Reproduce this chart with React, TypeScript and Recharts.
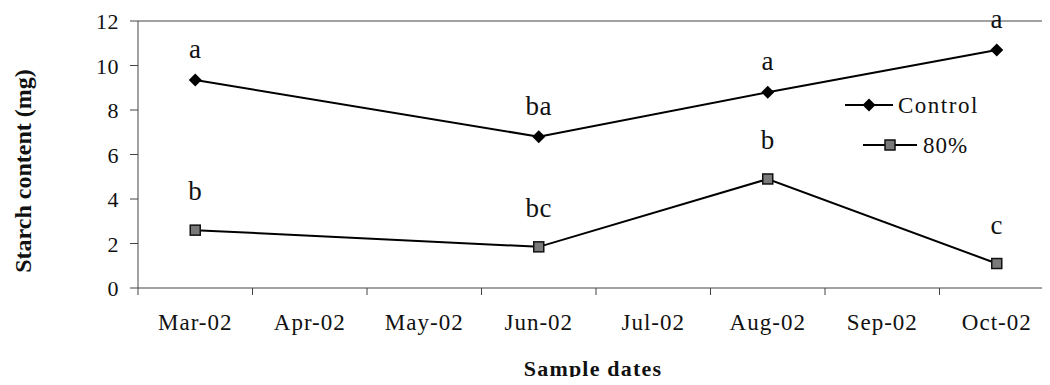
import React from 'react'
import {
  LineChart,
  Line,
  XAxis,
  YAxis,
  ReferenceLine,
  LabelList,
} from 'recharts'

const months = ['Mar-02', 'Apr-02', 'May-02', 'Jun-02', 'Jul-02', 'Aug-02', 'Sep-02', 'Oct-02']
const controlValues = [9.35, null, null, 6.8, null, 8.8, null, 10.7]
const lowValues = [2.6, null, null, 1.85, null, 4.9, null, 1.1]
const controlTags = ['a', null, null, 'ba', null, 'a', null, 'a']
const lowTags = ['b', null, null, 'bc', null, 'b', null, 'c']
const yTicks = [0, 2, 4, 6, 8, 10, 12]

const chartData = months.map((m, i) => ({
  month: m,
  control: controlValues[i],
  low: lowValues[i],
  controlTag: controlTags[i],
  lowTag: lowTags[i],
}))

const FONT = 'Liberation Serif, Times New Roman, DejaVu Serif, serif'
const AXIS = '#444'
const INK = '#111'

const CHART_W = 1070
const CHART_H = 385
const PLOT_LEFT = 138
const PLOT_RIGHT = 1054
const BAND = (PLOT_RIGHT - PLOT_LEFT) / months.length

const txt = (size: number, spacing = 0, bold = false) => ({
  fontFamily: FONT,
  fontSize: size,
  letterSpacing: spacing,
  fontWeight: bold ? 'bold' : 'normal',
  fill: INK,
})

function MonthTick(props: any) {
  const { x, y, payload, index } = props
  const left = x - BAND / 2
  return (
    <g>
      <line x1={left} y1={y} x2={left} y2={y + 7} stroke={AXIS} strokeWidth={1} />
      {index === months.length - 1 && (
        <line x1={x + BAND / 2} y1={y} x2={x + BAND / 2} y2={y + 7} stroke={AXIS} strokeWidth={1} />
      )}
      <text x={x} y={y + 42} textAnchor="middle" style={txt(23, 1)}>
        {payload.value}
      </text>
    </g>
  )
}

function ValueTick(props: any) {
  const { x, y, payload } = props
  return (
    <text x={x} y={y + 8} textAnchor="end" style={txt(22, 0.5)}>
      {payload.value}
    </text>
  )
}

function DiamondDot(props: any) {
  const { cx, cy, index } = props
  if (cx == null || cy == null || props.value == null) return <g key={`d-${index}`} />
  const r = 6.5
  return (
    <path
      key={`d-${index}`}
      d={`M${cx},${cy - r} L${cx + r},${cy} L${cx},${cy + r} L${cx - r},${cy} Z`}
      fill="#000"
    />
  )
}

function SquareDot(props: any) {
  const { cx, cy, index } = props
  if (cx == null || cy == null || props.value == null) return <g key={`s-${index}`} />
  const r = 5
  return (
    <rect
      key={`s-${index}`}
      x={cx - r}
      y={cy - r}
      width={r * 2}
      height={r * 2}
      fill="#7a7a7a"
      stroke="#111"
      strokeWidth={1.5}
    />
  )
}

const tagRenderer = (offset: number) => (props: any) => {
  const { x, y, value, index } = props
  if (value == null || x == null || y == null) return <g key={`t-${index}`} />
  return (
    <text key={`t-${index}`} x={x} y={y - offset} textAnchor="middle" style={txt(27, 0.5)}>
      {value}
    </text>
  )
}

function ChartLegend() {
  return (
    <svg width={200} height={80} style={{ position: 'absolute', left: 840, top: 88 }}>
      <g transform="translate(-840,-88)">
        <line x1={845} y1={105} x2={893} y2={105} stroke="#000" strokeWidth={2} />
        <path d="M869,98.5 L875.5,105 L869,111.5 L862.5,105 Z" fill="#000" />
        <text x={898} y={113} style={txt(23, 1.5)}>
          Control
        </text>
        <line x1={863} y1={145} x2={917} y2={145} stroke="#000" strokeWidth={2} />
        <rect x={885} y={140} width={10} height={10} fill="#7a7a7a" stroke="#111" strokeWidth={1.5} />
        <text x={923} y={153} style={txt(23, 1)}>
          80%
        </text>
      </g>
    </svg>
  )
}

export default function App() {
  return (
    <div
      style={{
        position: 'relative',
        width: 1050,
        height: 385,
        overflow: 'hidden',
        margin: -8,
        background: '#fff',
      }}
    >
      <LineChart
        width={CHART_W}
        height={CHART_H}
        data={chartData}
        margin={{ top: 21, right: CHART_W - PLOT_RIGHT, bottom: 0, left: 0 }}
      >
        <XAxis
          dataKey="month"
          height={97}
          stroke={AXIS}
          padding={{ left: BAND / 2, right: BAND / 2 }}
          tickLine={false}
          tickSize={0}
          tickMargin={0}
          interval={0}
          tick={<MonthTick />}
          label={{
            content: () => (
              <text x={593} y={376} textAnchor="middle" style={txt(22, 1.2, true)}>
                Sample dates
              </text>
            ),
          }}
        />
        <YAxis
          width={PLOT_LEFT}
          domain={[0, 12]}
          ticks={yTicks}
          interval={0}
          stroke={AXIS}
          tickSize={8}
          tickMargin={11}
          tick={<ValueTick />}
          label={{
            content: () => (
              <text
                x={31}
                y={171}
                transform="rotate(-90, 31, 171)"
                textAnchor="middle"
                style={txt(24, 0, true)}
              >
                Starch content (mg)
              </text>
            ),
          }}
        />
        <ReferenceLine y={12} stroke={AXIS} strokeWidth={1} />
        <Line
          dataKey="control"
          name="Control"
          stroke="#000"
          strokeWidth={2}
          connectNulls
          dot={DiamondDot}
          activeDot={false}
          isAnimationActive={false}
        >
          <LabelList dataKey="controlTag" content={tagRenderer(22)} />
        </Line>
        <Line
          dataKey="low"
          name="80%"
          stroke="#000"
          strokeWidth={2}
          connectNulls
          dot={SquareDot}
          activeDot={false}
          isAnimationActive={false}
        >
          <LabelList dataKey="lowTag" content={tagRenderer(30)} />
        </Line>
      </LineChart>
      <ChartLegend />
    </div>
  )
}
